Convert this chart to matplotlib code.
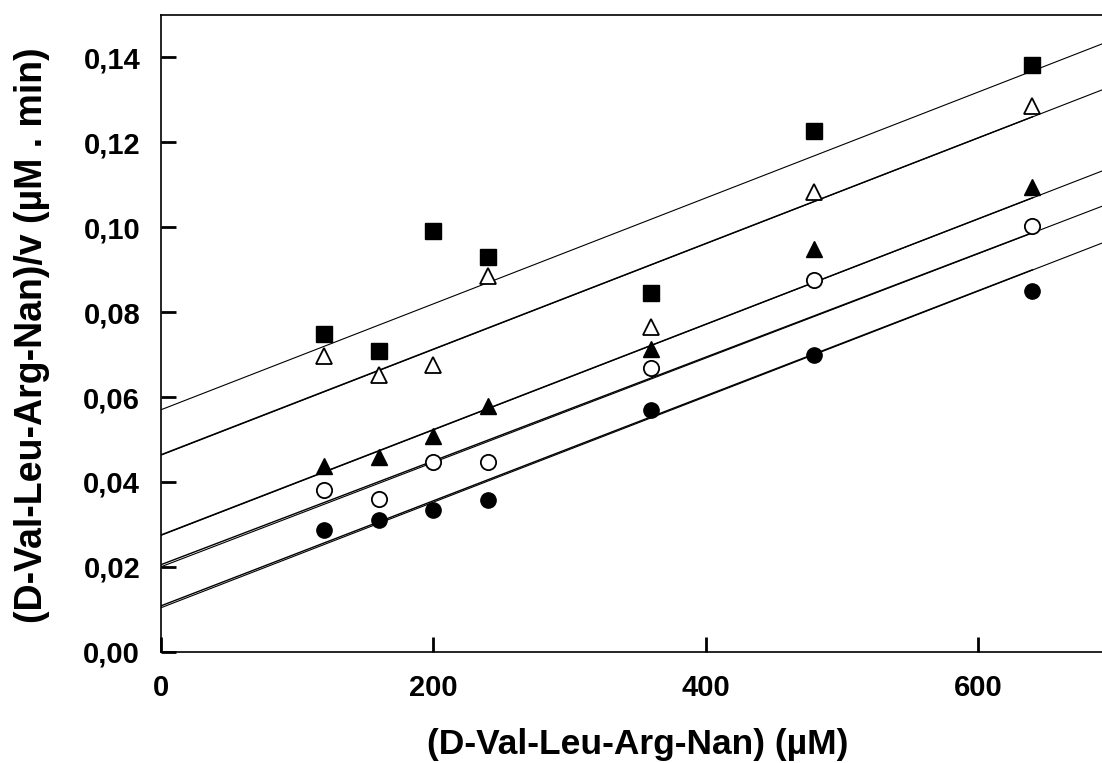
import numpy as np
import matplotlib
matplotlib.use("Agg")
import matplotlib.pyplot as plt
from matplotlib.ticker import FuncFormatter

plt.rcParams["font.family"] = ["Liberation Sans", "DejaVu Sans"]
plt.rcParams["font.weight"] = "bold"

# substrate concentrations (uM)
conc = np.array([120, 160, 200, 240, 360, 480, 640])

# S/v values for each inhibitor series
sq_filled = [0.0749, 0.0708, 0.0992, 0.0929, 0.0846, 0.1226, 0.1383]
tri_open = [0.0697, 0.0651, 0.0675, 0.0886, 0.0766, 0.1082, 0.1286]
tri_filled = [0.0438, 0.0458, 0.0508, 0.0580, 0.0714, 0.0948, 0.1096]
circ_open = [0.0382, 0.0359, 0.0446, 0.0446, 0.0668, 0.0875, 0.1002]
circ_filled = [0.0286, 0.0310, 0.0333, 0.0357, 0.0570, 0.0698, 0.0849]

# regression lines (intercept, slope)
line_b = [0.0570, 0.0463, 0.0274, 0.0200, 0.01035]
line_m = [1.247e-4, 1.245e-4, 1.242e-4, 1.229e-4, 1.243e-4]
# second fit over the data range only (gives the doubled look)
fit_b = [0.0570, 0.0464, 0.0275, 0.0205, 0.0108]
fit_m = [1.247e-4, 1.244e-4, 1.241e-4, 1.222e-4, 1.237e-4]

XMAX = 700
YMAX = 0.15

fig = plt.figure(figsize=(11.02, 7.63), dpi=100)
ax = fig.add_axes([0.1461, 0.1459, 0.8648, 0.8344])

# lines
xx = np.array([0, XMAX])
for b, m in zip(line_b, line_m):
    ax.plot(xx, b + m * xx, color="black", lw=0.8, zorder=2)
xf = np.array([0, conc.max()])
for i, (b, m) in enumerate(zip(fit_b, fit_m)):
    if i == 0:
        continue
    ax.plot(xf, b + m * xf, color="black", lw=1.0, zorder=2)

# markers
ax.plot(conc, sq_filled, ls="none", marker="s", ms=11, mfc="black", mec="black", zorder=3)
ax.plot(conc, tri_open, ls="none", marker="^", ms=12, mfc="white", mec="black", mew=1.3, zorder=3)
ax.plot(conc, tri_filled, ls="none", marker="^", ms=12, mfc="black", mec="black", zorder=3)
ax.plot(conc, circ_open, ls="none", marker="o", ms=11, mfc="white", mec="black", mew=1.3, zorder=3)
ax.plot(conc, circ_filled, ls="none", marker="o", ms=11, mfc="black", mec="black", zorder=3)

ax.set_xlim(0, XMAX)
ax.set_ylim(0, YMAX)
ax.set_xticks([0, 200, 400, 600])
ax.set_yticks(np.arange(0, 0.141, 0.02))
ax.yaxis.set_major_formatter(FuncFormatter(lambda v, p: f"{v:.2f}".replace(".", ",")))

ax.tick_params(direction="in", length=11, width=2, labelsize=21, pad=15)
ax.tick_params(axis="x", pad=16)
for lab in ax.get_xticklabels() + ax.get_yticklabels():
    lab.set_fontweight("bold")

for s in ["left", "bottom", "top"]:
    ax.spines[s].set_linewidth(1.2)
ax.spines["right"].set_visible(False)

ax.set_xlabel("(D-Val-Leu-Arg-Nan) (µM)", fontsize=25.5, fontweight="bold")
ax.set_ylabel("(D-Val-Leu-Arg-Nan)/v (µM . min)", fontsize=27, fontweight="bold")
ax.xaxis.set_label_coords(0.5, -0.12)
ax.yaxis.set_label_coords(-0.116, 0.497)

fig.savefig("out.png", dpi=100)
